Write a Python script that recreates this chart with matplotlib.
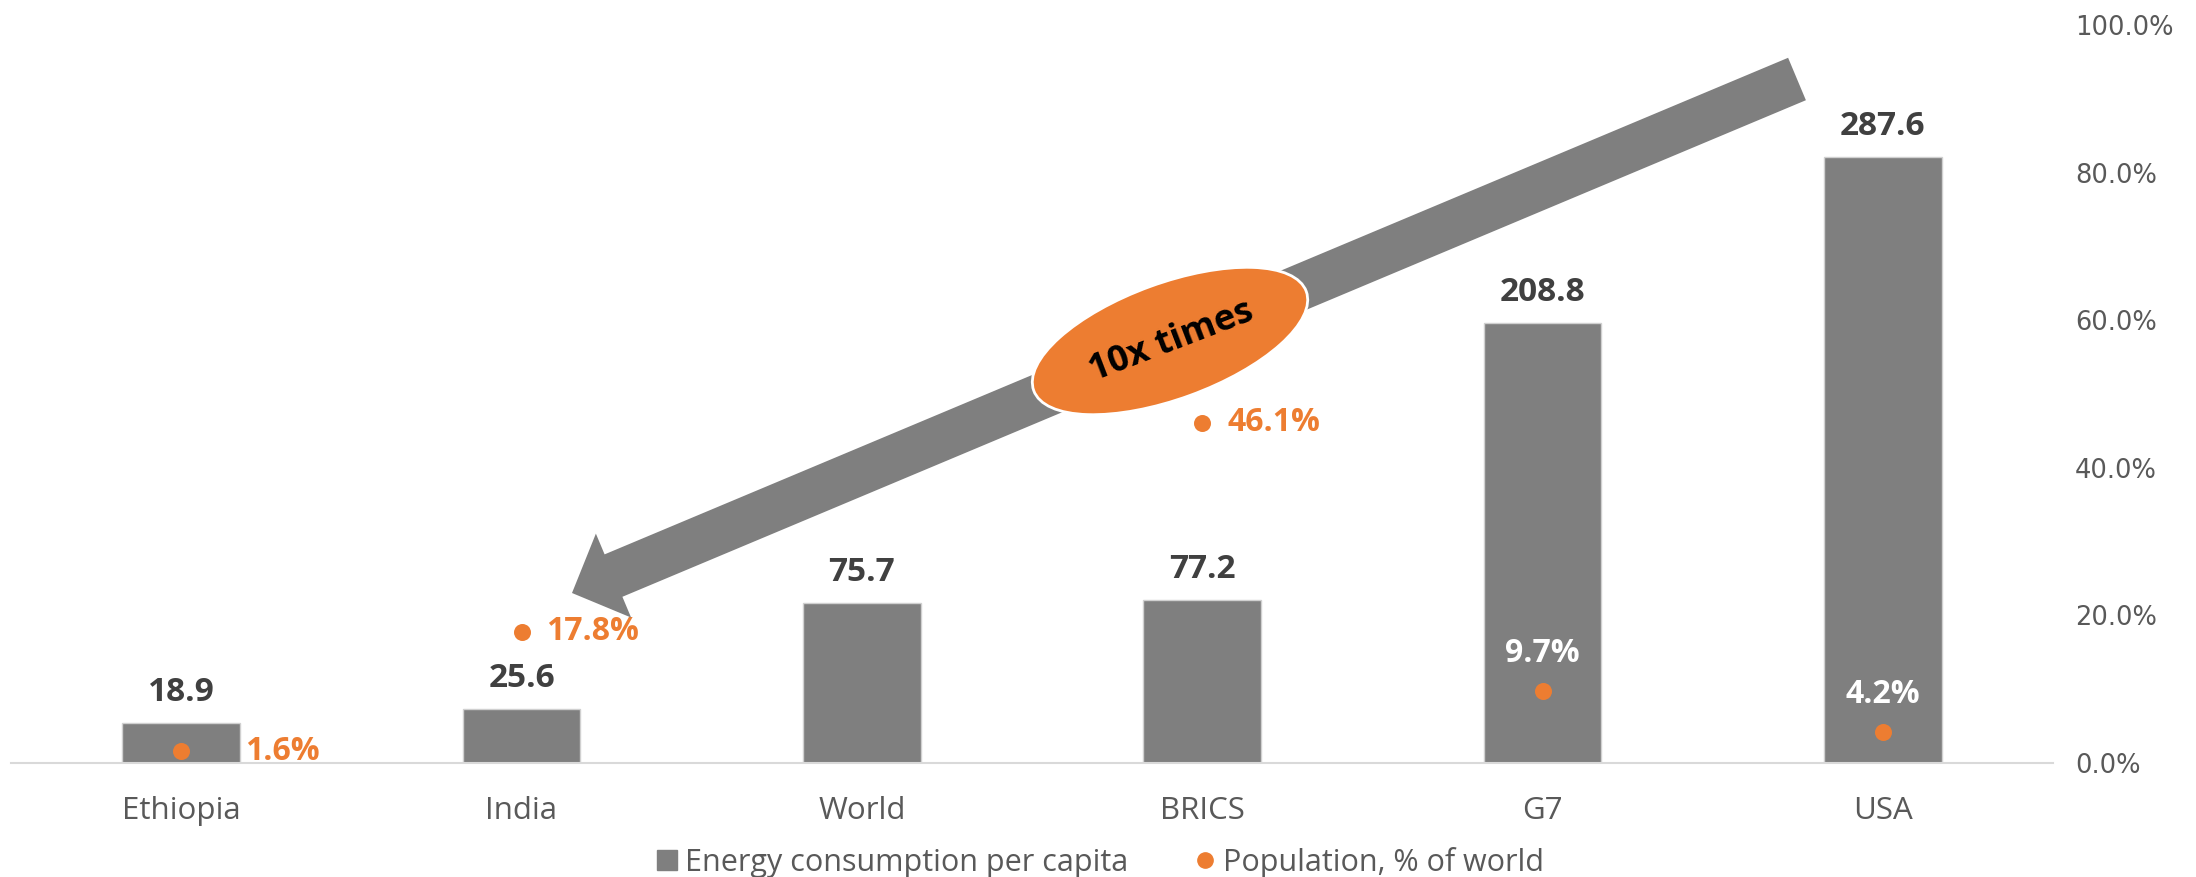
import numpy as np
from matplotlib import pyplot as plt
from matplotlib.patches import FancyArrow, Ellipse
from matplotlib.lines import Line2D
from matplotlib.transforms import IdentityTransform

categories = ['Ethiopia', 'India', 'World', 'BRICS', 'G7', 'USA']
energy = [18.9, 25.6, 75.7, 77.2, 208.8, 287.6]
population = [0.016, 0.178, np.nan, 0.461, 0.097, 0.042]
pct_ticks = [0.0, 0.2, 0.4, 0.6, 0.8, 1.0]

grey = '#7f7f7f'
orange = '#ED7D31'
dark = '#404040'
label_grey = '#595959'

plt.rcParams['font.family'] = ['Open Sans', 'DejaVu Sans']

fig = plt.figure(figsize=(21.96, 8.77), dpi=100)
ax = fig.add_axes([11 / 2196, 114 / 877, 2042 / 2196, 738 / 877])

x = np.arange(len(categories))
ax.bar(x, energy, width=0.345, color=grey, edgecolor='#d0d0d0', linewidth=1, zorder=2)
ax.set_ylim(0, 350)
ax.set_xlim(-0.5, len(categories) - 0.5)
ax.set_xticks(x)
ax.set_xticklabels(categories, fontsize=22.5, color=label_grey)
ax.tick_params(axis='x', length=0, pad=24)
ax.set_yticks([])
for s in ['left', 'right', 'top']:
    ax.spines[s].set_visible(False)
ax.spines['bottom'].set_color('#d9d9d9')
ax.spines['bottom'].set_linewidth(1.5)

for xi, v in zip(x, energy):
    ax.annotate(f'{v}', (xi, v), xytext=(0, 22), textcoords='offset points',
                ha='center', va='center', fontsize=24, fontweight='bold', color=dark)

ax2 = ax.twinx()
ax2.set_ylim(0, 1)
ax2.set_yticks(pct_ticks)
ax2.set_yticklabels([f'{t * 100:.1f}%' for t in pct_ticks], family='DejaVu Sans')
ax2.tick_params(axis='y', length=0, pad=16, labelsize=18.5, labelcolor=label_grey)
for s in ['left', 'right', 'top', 'bottom']:
    ax2.spines[s].set_visible(False)

ax2.scatter(x, population, s=150, color=orange, zorder=3, linewidths=0)

# labels next to / above the dots
right_offset = {0: 46, 1: 18, 3: 18}
for i, p in enumerate(population):
    if np.isnan(p):
        continue
    if i in right_offset:
        ax2.annotate(f'{p * 100:.1f}%', (x[i], p), xytext=(right_offset[i], 0),
                     textcoords='offset points', ha='left', va='center',
                     fontsize=23, fontweight='bold', color=orange)
    else:
        ax2.annotate(f'{p * 100:.1f}%', (x[i], p), xytext=(0, 27),
                     textcoords='offset points', ha='center', va='center',
                     fontsize=23, fontweight='bold', color='white')

# big arrow and "10x times" bubble, in pixel coords
fig.add_artist(FancyArrow(1797, 798, -1225, -514, width=46, head_width=91, head_length=45,
                          length_includes_head=True, color=grey, linewidth=0,
                          transform=IdentityTransform()))
fig.add_artist(Ellipse((1170, 536), 290, 116, angle=20, facecolor=orange, edgecolor='white',
                       linewidth=2, transform=IdentityTransform()))
fig.text(1172, 535, '10x times', transform=IdentityTransform(), rotation=21,
         rotation_mode='anchor', ha='center', va='center', fontsize=26,
         fontweight='bold', color='black')

handles = [Line2D([], [], marker='s', linestyle='none', markersize=15, color=grey),
           Line2D([], [], marker='o', linestyle='none', markersize=11, color=orange)]
fig.legend(handles, ['Energy consumption per capita', 'Population, % of world'],
           loc='lower center', bbox_to_anchor=(0.5, -0.025), ncol=2, frameon=False,
           fontsize=22, labelcolor=label_grey, handletextpad=0.1, columnspacing=2.0,
           handlelength=1.0, borderpad=0.2)

fig.savefig('out.png', dpi=100)
